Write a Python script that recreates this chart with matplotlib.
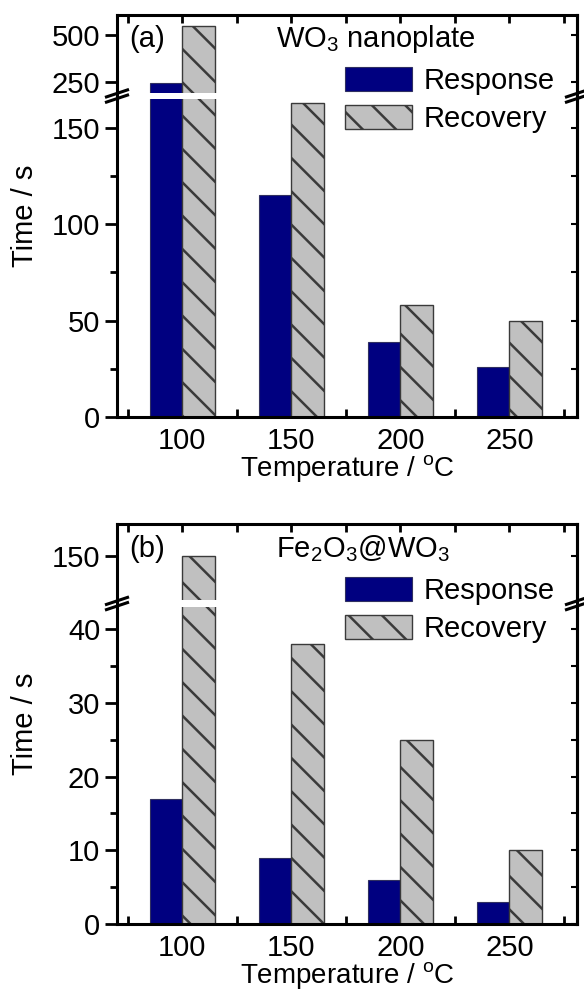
import numpy as np
import matplotlib.pyplot as plt
from matplotlib.lines import Line2D
from matplotlib.ticker import FixedLocator

plt.rcParams['font.family'] = ['Liberation Sans', 'DejaVu Sans']
plt.rcParams['mathtext.fontset'] = 'custom'
plt.rcParams['mathtext.rm'] = 'Liberation Sans'
plt.rcParams['mathtext.it'] = 'Liberation Sans:italic'
plt.rcParams['hatch.linewidth'] = 1.8

# data
temps = [100, 150, 200, 250]
minor_x = [75, 125, 175, 225, 275]
wo3_response = [245, 115, 39, 26]
wo3_recovery = [545, 163, 58, 50]
fe_response = [17, 9, 6, 3]
fe_recovery = [150, 38, 25, 10]

W, H = 584, 996
FS = 21
fig = plt.figure(figsize=(W / 100, H / 100), dpi=100)


def box(left, top, right, bottom):
    # pixel box -> figure fraction
    return [left / W, 1 - bottom / H, (right - left) / W, (bottom - top) / H]


def fig_line(x0, y0, x1, y1, lw):
    fig.add_artist(Line2D([x0 / W, x1 / W], [1 - y0 / H, 1 - y1 / H],
                          transform=fig.transFigure, color='black', lw=lw,
                          solid_capstyle='butt', clip_on=False, zorder=10))


def draw_break(xs, y_top, y_bot):
    yc = (y_top + y_bot) / 2
    for x in xs:
        fig_line(x, y_top, x, y_bot, 2.2)  # keep spine continuous
        for dy in (-2.6, 2.6):
            fig_line(x - 12, yc + dy + 4, x + 12, yc + dy - 4, 2.2)


def style(ax, ylim, major, minor, upper):
    ax.set_xlim(70, 281)
    ax.set_ylim(*ylim)
    ax.set_axisbelow(True)
    ax.xaxis.set_major_locator(FixedLocator(temps))
    ax.xaxis.set_minor_locator(FixedLocator(minor_x))
    ax.yaxis.set_major_locator(FixedLocator(major))
    ax.yaxis.set_minor_locator(FixedLocator(minor))
    for s in ax.spines.values():
        s.set_linewidth(2.2)
    ax.tick_params(axis='y', which='both', direction='out', width=2,
                   labelsize=FS, pad=3, right=False)
    ax.tick_params(axis='y', which='major', length=9)
    ax.tick_params(axis='y', which='minor', length=5)
    ax.tick_params(axis='x', which='both', direction='in', width=2,
                   length=6, labelsize=FS, pad=7,
                   top=upper, bottom=not upper, labelbottom=not upper)
    sec = ax.secondary_yaxis('right')
    sec.spines['right'].set_linewidth(2.2)
    sec.yaxis.set_major_locator(FixedLocator(major))
    sec.yaxis.set_minor_locator(FixedLocator(minor))
    sec.tick_params(which='both', direction='in', length=4, width=1.5,
                    labelright=False)
    if upper:
        ax.spines['bottom'].set_visible(False)
    else:
        ax.spines['top'].set_visible(False)


def bars(ax, resp, reco):
    x = np.array(temps)
    r1 = ax.bar(x - 7.5, resp, width=15, color='#000080',
                edgecolor='#303060', linewidth=0.8, label='Response', zorder=2)
    r2 = ax.bar(x + 7.5, reco, width=15, color='#c0c0c0', hatch='\\',
                edgecolor='#3a3a3a', linewidth=1.0, label='Recovery', zorder=2)
    return r1, r2


def panel(up_px, low_px, resp, reco, up_lim, up_ticks, low_lim, low_major,
          low_minor, tag, title, base_y):
    ax_up = fig.add_axes(box(*up_px))
    ax_low = fig.add_axes(box(*low_px))
    bars(ax_up, resp, reco)
    h1, h2 = bars(ax_low, resp, reco)
    style(ax_up, up_lim, up_ticks, [], True)
    style(ax_low, low_lim, low_major, low_minor, False)
    ax_low.set_xlabel('Temperature / $^{\\rm o}$C', fontsize=20, labelpad=-1)
    fig.text(129 / W, 1 - base_y / H, tag, fontsize=FS, va='baseline')
    fig.text(276 / W, 1 - base_y / H, title, fontsize=FS, va='baseline')
    fig.text(25 / W, 1 - (up_px[1] + low_px[3]) / 2 / H, 'Time / s',
             rotation=90, fontsize=FS, ha='center', va='center')
    fig.legend([h1, h2], ['Response', 'Recovery'], loc='upper left',
               bbox_to_anchor=(345 / W, 1 - (base_y + 20) / H),
               fontsize=FS, frameon=False, borderpad=0, borderaxespad=0,
               handlelength=2.3, handleheight=0.88, handletextpad=0.4,
               labelspacing=0.35)
    draw_break([up_px[0], up_px[2]], up_px[3], low_px[1])
    return ax_up, ax_low


panel((117, 15, 577, 93), (117, 99, 577, 417), wo3_response, wo3_recovery,
      (191.5, 606), [250, 500], (0, 165), [0, 50, 100, 150], [25, 75, 125],
      '(a)', 'WO$_3$ nanoplate', 47)

panel((117, 524, 577, 600), (117, 607, 577, 924), fe_response, fe_recovery,
      (138.5, 158.5), [150], (0, 43), [0, 10, 20, 30, 40], [5, 15, 25, 35],
      '(b)', 'Fe$_2$O$_3$@WO$_3$', 557)

fig.savefig('out.png', dpi=100)
